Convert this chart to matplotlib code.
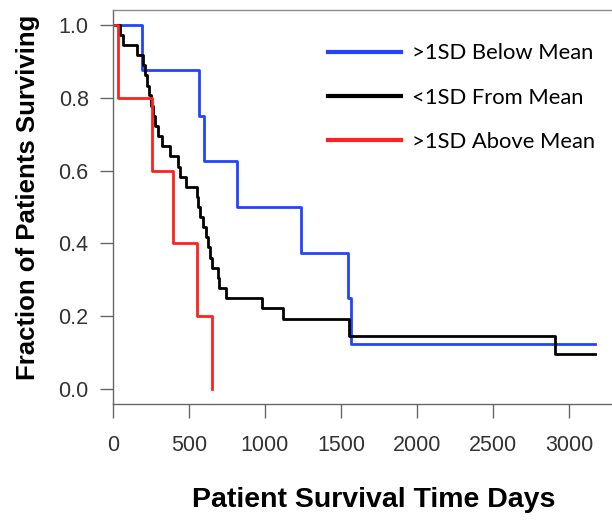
import matplotlib
matplotlib.use("Agg")
import matplotlib.pyplot as plt

# Kaplan-Meier style step data (time in days, fraction surviving)
below_times = [0, 193, 566, 599, 814, 1235, 1548, 1566, 3170]
below_surv = [1.0, 0.875, 0.75, 0.625, 0.5, 0.375, 0.25, 0.125, 0.125]

within_times = [0, 48, 66, 156, 200, 212, 225, 240, 253, 265, 275, 296, 320, 375,
                430, 440, 480, 550, 560, 572, 590, 610, 625, 638, 650, 693, 700,
                743, 982, 1116, 1555, 2908, 3170]
within_surv = [1.0, 0.972, 0.944, 0.917, 0.889, 0.861, 0.833, 0.806, 0.778, 0.75,
               0.722, 0.694, 0.667, 0.639, 0.611, 0.583, 0.556, 0.528, 0.5, 0.472,
               0.444, 0.417, 0.389, 0.361, 0.333, 0.306, 0.278, 0.25, 0.222, 0.194,
               0.146, 0.097, 0.097]

above_times = [0, 35, 254, 393, 555, 653]
above_surv = [1.0, 0.8, 0.6, 0.4, 0.2, 0.0]

labels = [">1SD Below Mean", "<1SD From Mean", ">1SD Above Mean"]
colors = ["#2244ff", "#000000", "#ff2020"]

xticks = [0, 500, 1000, 1500, 2000, 2500, 3000]
yticks = [0.0, 0.2, 0.4, 0.6, 0.8, 1.0]

W, H = 612, 523
fig = plt.figure(figsize=(W / 100, H / 100), dpi=100)
ax = fig.add_axes([113 / W, 1 - 404 / H, 1 - 113 / W, (404 - 10) / H])

series = [(below_times, below_surv), (within_times, within_surv), (above_times, above_surv)]
handles = []
for (t, s), c, lab in zip(series, colors, labels):
    h, = ax.step(t, s, where="post", color=c, lw=2.0, label=lab)
    handles.append(h)

ax.set_xlim(0, 3283)
ax.set_ylim(-0.04, 1.04)
ax.set_xticks(xticks)
ax.set_xticklabels([str(v) for v in xticks])
ax.set_yticks(yticks)
ax.set_yticklabels([f"{v:.1f}" for v in yticks])

for sp in ["left", "bottom"]:
    ax.spines[sp].set_color("#666666")
    ax.spines[sp].set_linewidth(1.0)
ax.spines["top"].set_color("#8a8a8a")
ax.spines["top"].set_linewidth(1.0)
ax.spines["right"].set_visible(False)

ax.tick_params(axis="x", direction="out", length=10, width=1, color="#666666",
               labelsize=15.5, labelcolor="#333333", pad=12)
ax.tick_params(axis="y", direction="out", length=9.5, width=1, color="#666666",
               labelsize=15.5, labelcolor="#333333", pad=8)
for lbl in ax.get_xticklabels() + ax.get_yticklabels():
    lbl.set_family("Liberation Sans")

fig.text(374 / W, 1 - 500 / H, "Patient Survival Time Days", ha="center", va="center",
         fontsize=20.5, fontweight="bold", family="Liberation Sans")
fig.text(28 / W, 1 - 197 / H, "Fraction of Patients Surviving", ha="center", va="center",
         rotation=90, fontsize=18.5, fontweight="bold", family="Liberation Sans")

leg = ax.legend(handles=handles, labels=labels, loc="upper left",
                bbox_to_anchor=((313 - 113) / (W - 113), 1 - (28 - 10) / 394),
                frameon=False, prop={"family": "Lato", "size": 15.8},
                handlelength=3.3, handletextpad=0.5, labelspacing=1.1,
                borderaxespad=0.3)
for lh in leg.get_lines():
    lh.set_linewidth(3.0)

fig.savefig("out.png", dpi=100)
